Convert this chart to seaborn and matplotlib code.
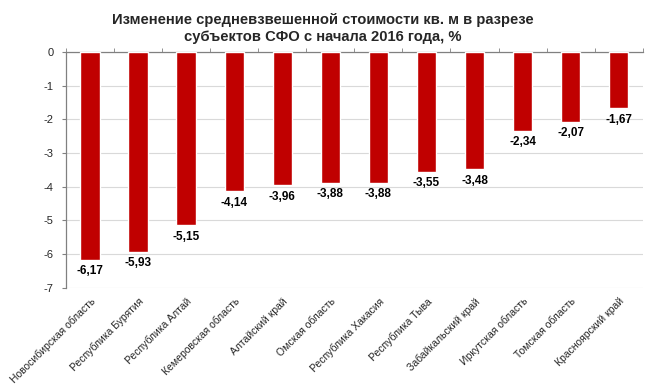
import numpy as np
import pandas as pd
import matplotlib
matplotlib.use('Agg')
import matplotlib.pyplot as plt
import seaborn as sns

# Данные
regions = ['Новосибирская область', 'Республика Бурятия', 'Республика Алтай',
           'Кемеровская область', 'Алтайский край', 'Омская область',
           'Республика Хакасия', 'Республика Тыва', 'Забайкальский край',
           'Иркутская область', 'Томская область', 'Красноярский край']
changes = [-6.17, -5.93, -5.15, -4.14, -3.96, -3.88, -3.88, -3.55, -3.48, -2.34, -2.07, -1.67]
y_ticks = [0, -1, -2, -3, -4, -5, -6, -7]

df = pd.DataFrame({'region': regions, 'change': changes})

sns.set_style('white')
plt.rcParams['font.family'] = ['Liberation Sans', 'DejaVu Sans']

fig = plt.figure(figsize=(6.46, 3.90), dpi=100)
ax = fig.add_axes([0.102, 0.262, 0.893, 0.605])

sns.barplot(data=df, x='region', y='change', color='#C00000', width=0.4,
            saturation=1, ax=ax, zorder=3)

# Подписи значений
for i, v in enumerate(changes):
    ax.annotate(f'{v:.2f}'.replace('.', ','), (i, v), xytext=(0, -4),
                textcoords='offset points', ha='center', va='top',
                fontsize=8.5, fontweight='bold', color='black')

ax.set_ylim(-7, 0)
ax.set_xlim(-0.5, len(regions) - 0.5)
ax.set_yticks(y_ticks)
ax.set_yticklabels([str(t) for t in y_ticks], fontsize=8)
ax.grid(axis='y', color='#D9D9D9', linewidth=0.8, zorder=0)

# Ось категорий сверху (у нуля), засечки между категориями
ax.set_xticks(range(len(regions)))
ax.set_xticklabels(regions, rotation=45, ha='right', rotation_mode='anchor', fontsize=7.5)
ax.set_xticks(np.arange(-0.5, len(regions)), minor=True)
ax.tick_params(axis='x', which='major', length=0, pad=6)
ax.tick_params(axis='x', which='minor', top=True, bottom=False, length=3,
               direction='out', color='#808080')
ax.tick_params(axis='y', left=True, length=3, direction='out', color='#808080', pad=6)

for side in ['bottom', 'right']:
    ax.spines[side].set_visible(False)
for side in ['left', 'top']:
    ax.spines[side].set_color('#808080')
    ax.spines[side].set_linewidth(0.9)

ax.set_xlabel('')
ax.set_ylabel('')

fig.text(0.5, 0.926, 'Изменение средневзвешенной стоимости кв. м в разрезе\n'
         'субъектов СФО с начала 2016 года, %',
         ha='center', va='center', fontsize=10.6, fontweight='bold', linespacing=1.25)

fig.savefig('out.png', dpi=100)
